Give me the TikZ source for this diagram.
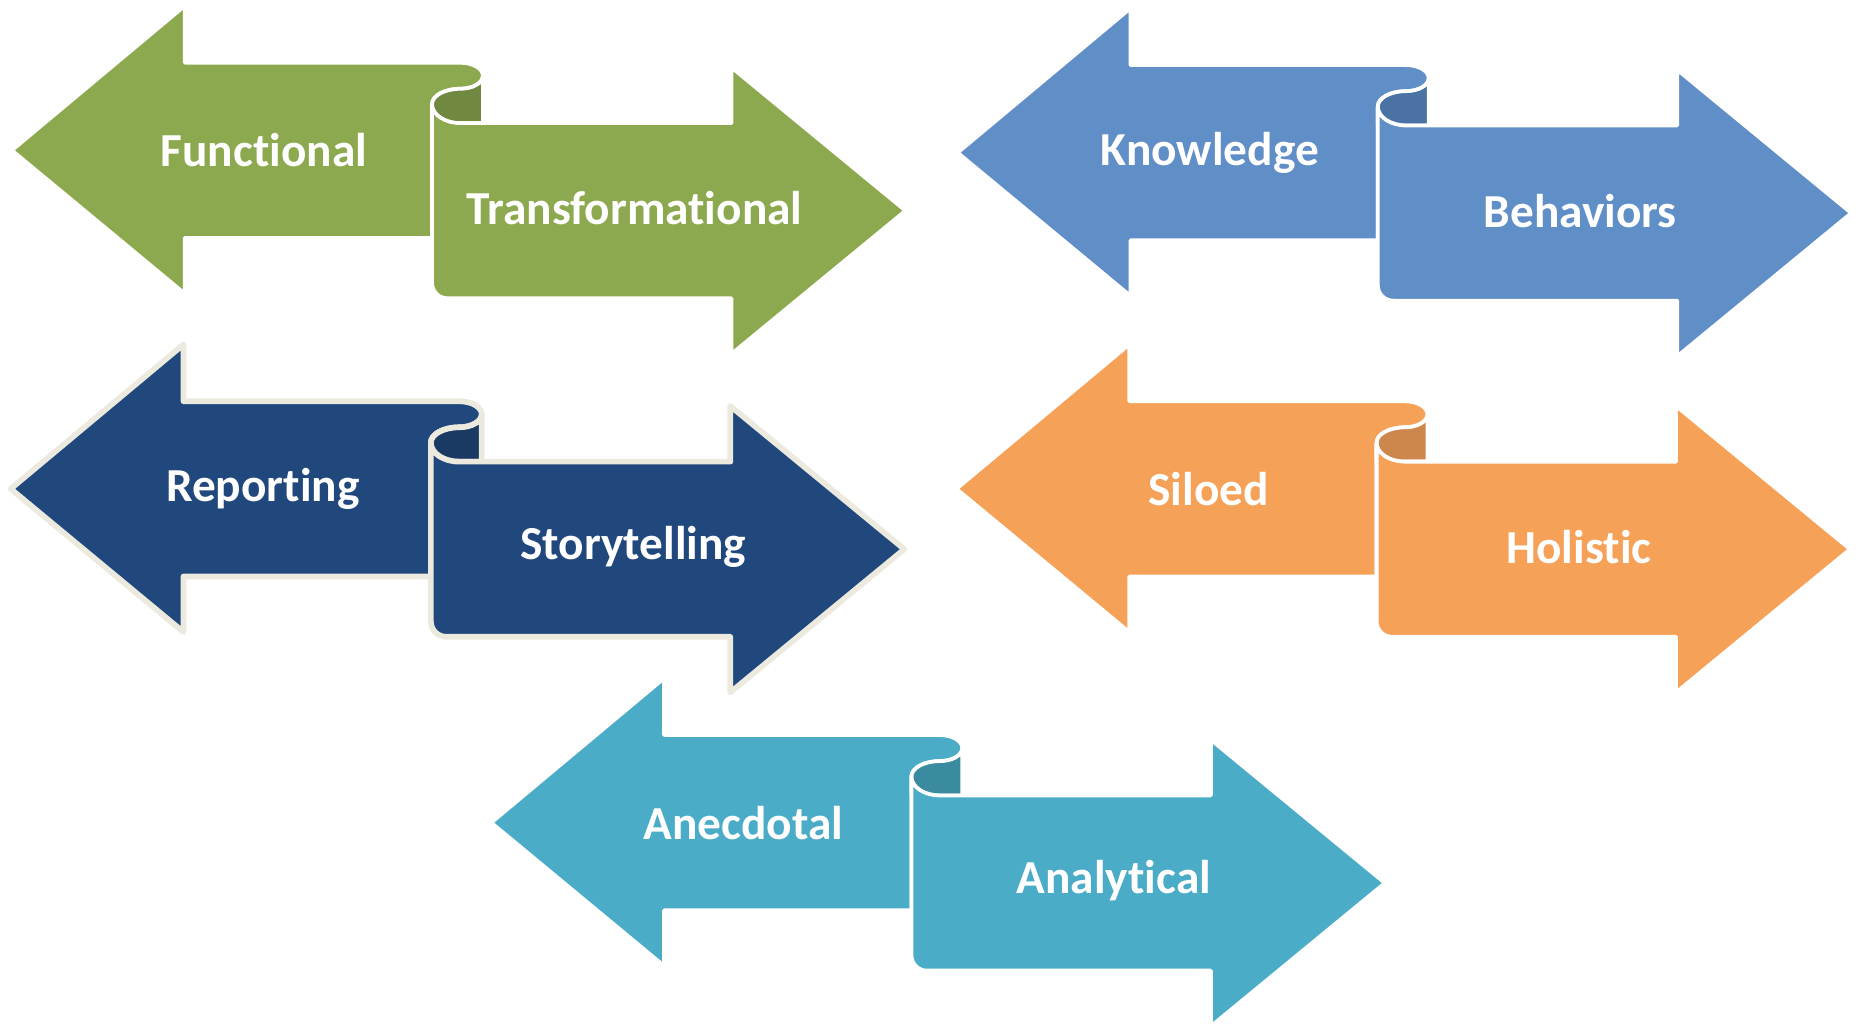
\documentclass[tikz,border=0pt]{standalone}
\usepackage{fontspec}
\setmainfont{Carlito}[Ligatures=NoCommon, Contextuals=NoAlternate]
\usepackage{tikz}

\definecolor{olivefill}{RGB}{141,169,79}
\definecolor{olivedark}{RGB}{112,136,64}
\definecolor{skyfill}{RGB}{96,142,198}
\definecolor{skydark}{RGB}{74,114,164}
\definecolor{navyfill}{RGB}{32,72,124}
\definecolor{navydark}{RGB}{27,58,99}
\definecolor{navyedge}{RGB}{236,233,222}
\definecolor{peachfill}{RGB}{246,161,88}
\definecolor{peachdark}{RGB}{205,134,76}
\definecolor{tealfill}{RGB}{74,172,198}
\definecolor{tealdark}{RGB}{58,138,160}

\tikzset{
  sheet/.style={line width=1.6pt, line join=round},
  wordlabel/.style={text=white, font=\bfseries\fontsize{20}{24}\selectfont, inner sep=0.75pt}
}

% opposing arrows joined by a rolled sheet
% #1 style, #2 name, #3 x, #4 y, #5 fill, #6 roll, #7 edge, #8 left word, #9 right word
\newcommand{\scrollpair}[9][sheet]{%
\begin{scope}[shift={(#3,#4)}]
%Left arrow
\draw [#1, fill=#5, draw=#7] (0,0) -- (146,-122) -- (146,-74) -- (379,-74) arc[start angle=-90, end angle=90, x radius=19, y radius=11] arc[start angle=-90, end angle=-180, x radius=24, y radius=13] -- (355,74) -- (146,74) -- (146,121) -- cycle ;
%Inside of roll
\draw [#1, fill=#6, draw=#7] (398,-63) arc[start angle=0, end angle=90, x radius=19, y radius=11] arc[start angle=-90, end angle=-180, x radius=24, y radius=13] -- (355,-23) -- (398,-23) -- cycle ;
%Right arrow
\draw [#1, fill=#5, draw=#7] (355,-39) -- (355,112) arc[start angle=180, end angle=90, radius=13] -- (608,125) -- (608,172) -- (755,51) -- (608,-70) -- (608,-23) -- (379,-23) arc[start angle=90, end angle=180, x radius=24, y radius=16] -- cycle ;
% Text Node
\node [wordlabel] (#2-left) at (213,0) {#8};
% Text Node
\node [wordlabel] (#2-right) at (526,49) {#9};
\end{scope}}

\begin{document}
\begin{tikzpicture}[x=0.5pt,y=0.5pt,yscale=-1,xscale=1]
\useasboundingbox (0,0) rectangle (1568,871);

\scrollpair{func}{10}{127}{olivefill}{olivedark}{white}{Functional}{Transformational}
\scrollpair{know}{809}{129}{skyfill}{skydark}{white}{Knowledge}{Behaviors}
\scrollpair[sheet, line width=2.4pt]{report}{9}{413}{navyfill}{navydark}{navyedge}{Reporting}{Storytelling}
\scrollpair{silo}{808}{413}{peachfill}{peachdark}{white}{Siloed}{Holistic}
\scrollpair{anec}{415}{695}{tealfill}{tealdark}{white}{Anecdotal}{Analytical}

\end{tikzpicture}
\end{document}
